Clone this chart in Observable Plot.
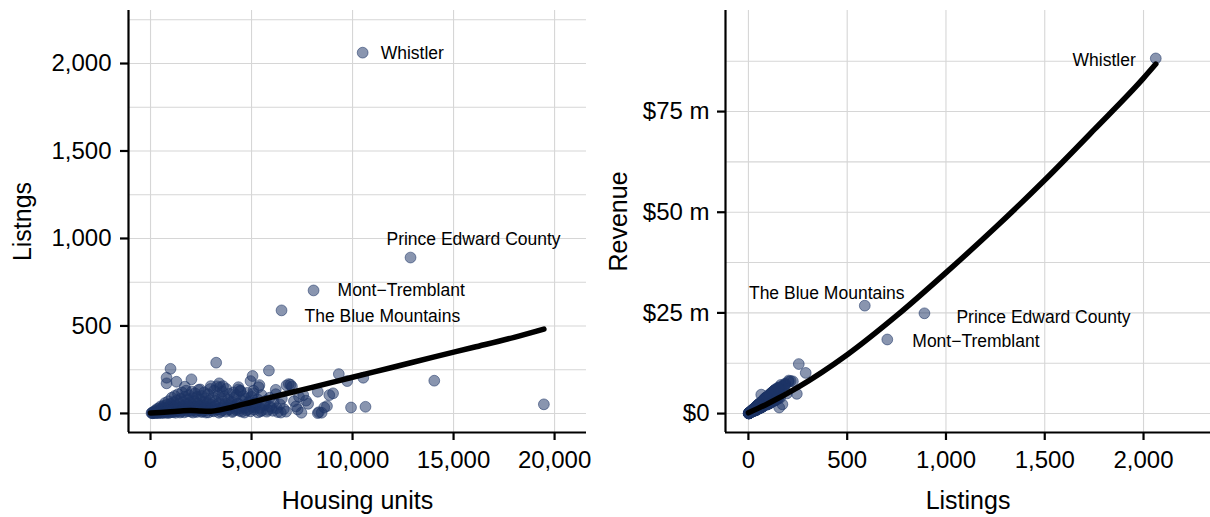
<!DOCTYPE html>
<html>
<head>
<meta charset="utf-8">
<script src="https://cdn.jsdelivr.net/npm/d3@7"></script>
<script src="https://cdn.jsdelivr.net/npm/@observablehq/plot@0.6"></script>
<style>
  body { margin: 0; background: #fff; }
  #wrap { display: flex; width: 1210px; height: 517px; }
  #wrap svg { display: block; overflow: visible; }
</style>
</head>
<body>
<div id="wrap"></div>
<script>
// ---------- tick values and labels ----------
const housingTicks = [0, 5000, 10000, 15000, 20000];
const listingTicks = [0, 500, 1000, 1500, 2000];
const listingMinorTicks = [250, 750, 1250, 1750, 2250];
const revenueTicks = [0, 25, 50, 75];
const revenueTickLabels = ["$0", "$25 m", "$50 m", "$75 m"];
const revenueMinorTicks = [12.5, 37.5, 62.5, 87.5];

// ---------- labelled places ----------
const placeNames = ["Whistler", "Prince Edward County", "Mont\u2212Tremblant", "The Blue Mountains"];
const placeHousing = [10500, 12870, 8070, 6485];
const placeListings = [2062, 891, 703, 589];
const placeRevenue = [88.2, 24.9, 18.4, 26.8]; // $ millions

// ---------- all other places (housing units, listings, revenue in $ m) ----------
const housing = [
  50,80,120,150,200,230,260,300,320,350,
  380,400,420,450,480,500,520,550,580,600,
  620,650,680,700,720,750,780,800,820,850,
  880,900,930,960,1000,1020,1050,1080,1100,1130,
  1150,1180,1200,1230,1260,1300,1330,1360,1400,1430,
  1460,1500,1530,1560,1600,1630,1660,1700,1730,1760,
  1800,1830,1860,1900,1930,1960,2000,2050,2080,2100,
  2150,2180,2200,2250,2280,2300,2350,2380,2420,2450,
  2500,2530,2560,2600,2650,2680,2720,2750,2800,2850,
  2880,2920,2960,3000,3050,3100,3150,3200,3230,3280,
  3320,3360,3400,3450,3480,3520,3560,3600,3650,3700,
  3750,3800,3850,3900,3950,4000,4050,4100,4150,4200,
  4250,4300,4350,4400,4450,4500,4550,4600,4650,4700,
  4750,4800,4850,4900,4950,5000,5050,5100,5150,5200,
  5300,5390,5450,5500,5600,5700,5800,5860,5900,6000,
  6100,6200,6300,6400,6500,6600,6710,6733,6845,6931,
  7000,7100,7200,7280,7350,7470,7560,7695,7800,8280,
  8280,8333,8470,8600,8735,8850,9035,9320,9735,9925,
  10530,10640,14045,19470,990,3250,795,795,1285,2025,
  1700,2460,2985,3400,3590,4350,4440,5100,6200,5350,
  100,180,270,340,430,510,590,660,740,830,
  910,990,1070,1150,1240,1320,1410,1490,1580,1670,
  1750,1840,1920,2010,2100,2190,2270,2360,2440,2530,
  2610,2700,2780,2870,2950,3040,3130,3210,3300,3390,
  3470,3560,3640,3730,3810,3900,3980,4070,4160,4240,
  4330,4420,4510,4590,4680,4770,4860,4950,5040,5130,
  5220,5320,5420,5520,5650,5750,5900,6050,6250,6450
];
const listings = [
  2,5,3,8,12,4,18,6,25,10,
  15,2,30,7,20,40,11,28,5,35,
  16,45,9,22,60,13,33,3,50,24,
  70,14,38,6,55,28,90,18,42,8,
  65,32,100,12,48,75,22,110,36,58,
  5,85,26,120,44,68,15,95,38,130,
  55,20,80,105,30,62,10,125,47,88,
  25,70,115,40,8,95,57,135,18,78,
  35,100,12,66,120,45,85,5,60,110,
  30,75,140,50,15,92,130,40,70,155,
  22,105,60,150,10,85,125,35,98,55,
  140,20,78,112,45,65,8,120,90,30,
  105,58,137,15,130,75,40,100,5,85,
  50,118,25,70,185,95,214,115,35,60,
  80,162,12,105,45,72,20,245,90,30,
  65,110,8,52,85,25,10,160,168,164,
  153,70,40,23,95,4,105,73,55,124,
  2,7,4,34,42,105,115,225,185,34,
  204,38,187,52,255,290,204,172,181,195,
  153,137,156,172,156,150,128,130,135,150,
  1,3,2,6,4,9,2,12,6,15,
  3,20,8,25,4,14,30,10,22,6,
  28,12,40,18,5,33,14,24,42,8,
  28,16,38,6,22,34,12,45,25,4,
  30,18,48,10,35,24,52,14,40,20,
  55,28,10,46,32,18,60,12,38,22,
  48,6,32,18,55,10,40,15,30,5
];
const revenue = [
  0.05,0.12,0.08,0.25,0.4,0.1,0.6,0.2,0.9,0.3,
  0.5,0.05,1.1,0.2,0.7,1.6,0.35,1.0,0.15,1.3,
  0.55,1.8,0.3,0.8,2.2,0.4,1.2,0.1,1.9,0.9,
  2.6,0.45,1.4,0.2,2.1,1.0,3.4,0.6,1.5,0.25,
  2.9,0.8,3.0,0.5,2.2,1.9,0.9,4.6,0.9,2.6,
  0.15,3.9,0.6,3.0,2.0,1.6,0.6,4.2,0.9,5.6,
  1.3,0.9,3.6,2.5,1.3,1.5,0.4,5.4,1.1,3.9,
  1.1,1.7,5.0,0.9,0.3,2.3,2.5,3.3,0.8,3.4,
  0.8,4.4,0.5,1.6,5.3,1.0,3.7,0.2,1.4,4.9,
  1.3,1.8,6.1,2.2,0.4,2.2,5.7,0.9,3.1,6.5,
  1.0,2.5,2.6,3.8,0.3,3.7,3.1,1.5,2.4,2.4,
  3.4,0.9,3.4,2.7,2.0,1.6,0.3,5.2,2.2,1.3,
  4.6,1.4,6.0,0.6,3.2,3.3,1.0,2.4,0.2,3.7,
  2.2,2.9,1.1,1.7,7.4,4.1,8.1,2.8,1.5,1.5,
  3.5,6.3,0.5,2.5,1.9,1.8,0.9,4.9,3.9,0.7,
  4.7,4.8,0.3,1.3,3.7,0.6,0.4,3.9,6.6,7.1,
  6.4,1.7,1.7,0.6,4.1,0.15,2.6,3.1,1.3,5.3,
  0.05,0.25,0.15,0.8,1.8,4.5,2.8,8.0,7.0,1.5,
  8.2,1.6,7.3,1.3,12.3,10.1,7.9,2.3,7.0,5.0,
  5.9,3.3,1.5,6.8,6.2,3.7,5.6,3.2,5.8,6.4,
  0.03,0.1,0.06,0.2,0.12,0.3,0.05,0.4,0.2,0.5,
  0.1,0.7,0.25,0.9,0.12,0.5,1.1,0.3,0.8,0.2,
  1.0,0.4,1.5,0.6,0.15,1.2,0.5,0.9,1.6,0.3,
  1.0,0.55,1.4,0.2,0.8,1.2,0.4,1.7,0.9,0.15,
  1.1,0.6,1.8,0.35,1.3,0.85,2.0,0.5,1.5,0.7,
  2.1,1.0,0.35,1.7,1.2,0.6,2.3,0.4,1.4,0.8,
  1.8,0.2,1.2,0.6,2.1,0.35,1.5,0.5,1.1,0.2
];

// ---------- smoothed trend lines ----------
const smoothHousing  = [0, 500, 1000, 1500, 2000, 2500, 3000, 3500, 4000, 5000, 6000, 7000, 8000, 10000, 12000, 14000, 16000, 18000, 19470];
const smoothListings = [3, 6, 10, 14, 17, 14, 13, 22, 35, 64, 93, 121, 149, 207, 264, 322, 378, 435, 482];
const smoothListingsR = [0, 100, 250, 500, 750, 1000, 1250, 1500, 1750, 2000, 2062];
const smoothRevenue   = [0.2, 2.5, 6.5, 14.6, 24.3, 35, 46.2, 58, 70.5, 83.3, 86.8];

// ---------- build tables ----------
const places = placeNames.map((n, i) => ({name: n, housing: placeHousing[i], listings: placeListings[i], revenue: placeRevenue[i]}));
const rows = housing.map((h, i) => ({housing: h, listings: listings[i], revenue: revenue[i]})).concat(places);
const smoothLeft = smoothHousing.map((h, i) => ({x: h, y: smoothListings[i]}));
const smoothRight = smoothListingsR.map((l, i) => ({x: l, y: smoothRevenue[i]}));

// ---------- styling ----------
const FONT = "'Liberation Sans', Arial, Helvetica, sans-serif";
const NAVY = "#1d3466";
const GRID = "#d6d6d6";
const dotStyle = {r: 5.4, fill: NAVY, fillOpacity: 0.52, stroke: NAVY, strokeOpacity: 0.55, strokeWidth: 1};
const gridStyle = {stroke: GRID, strokeOpacity: 1, strokeWidth: 1.1};
const axisStyle = {tickSize: 8, fontSize: 24, strokeWidth: 2.2, stroke: "black", fill: "black", label: null};
const labelFont = 17.5;
const titleFont = 25;

const leftLabelOffsets = [
  {textAnchor: "start", dx: 18, dy: 1},
  {textAnchor: "middle", dx: 63, dy: -18},
  {textAnchor: "start", dx: 24, dy: 0},
  {textAnchor: "start", dx: 23, dy: 6}
];
const rightLabelOffsets = [
  {textAnchor: "end", dx: -20, dy: 2},
  {textAnchor: "start", dx: 32, dy: 4},
  {textAnchor: "start", dx: 25, dy: 2},
  {textAnchor: "middle", dx: -38, dy: -12}
];

const xDomL = [-1090, 21580], yDomL = [-109, 2303];
const xDomR = [-116, 2339], yDomR = [-4.7, 100.1];

function titleX(t) {
  return Plot.text([t], {frameAnchor: "bottom", lineAnchor: "middle", textAnchor: "middle", dy: 68, text: d => d, fontSize: titleFont, fill: "black"});
}
function titleY(t, dx) {
  return Plot.text([t], {frameAnchor: "left", lineAnchor: "middle", textAnchor: "middle", dx, rotate: -90, text: d => d, fontSize: titleFont, fill: "black"});
}

const left = Plot.plot({
  width: 605, height: 517,
  marginLeft: 128, marginRight: 19, marginTop: 10, marginBottom: 85,
  style: {fontFamily: FONT, background: "white", color: "black"},
  x: {domain: xDomL},
  y: {domain: yDomL},
  marks: [
    Plot.gridY(listingMinorTicks.concat(listingTicks), gridStyle),
    Plot.gridX(housingTicks, gridStyle),
    Plot.dot(rows, {x: "housing", y: "listings", ...dotStyle}),
    Plot.line(smoothLeft, {x: "x", y: "y", stroke: "black", strokeWidth: 5.5, curve: "monotone-x"}),
    ...places.map((p, i) => Plot.text([p], {x: "housing", y: "listings", text: "name", fontSize: labelFont, fill: "black", ...leftLabelOffsets[i]})),
    Plot.ruleX([xDomL[0]], {stroke: "black", strokeWidth: 2.2}),
    Plot.ruleY([yDomL[0]], {stroke: "black", strokeWidth: 2.2}),
    Plot.axisX(housingTicks, {...axisStyle, tickPadding: 10, tickFormat: d3.format(",")}),
    Plot.axisY(listingTicks, {...axisStyle, tickPadding: 9, tickFormat: d3.format(",")}),
    titleX("Housing units"),
    titleY("Listngs", -106)
  ]
});

const right = Plot.plot({
  width: 605, height: 517,
  marginLeft: 120, marginRight: 0, marginTop: 10, marginBottom: 85,
  style: {fontFamily: FONT, background: "white", color: "black"},
  x: {domain: xDomR},
  y: {domain: yDomR},
  marks: [
    Plot.gridY(revenueMinorTicks.concat(revenueTicks), gridStyle),
    Plot.gridX(listingTicks, gridStyle),
    Plot.dot(rows, {x: "listings", y: "revenue", ...dotStyle}),
    Plot.line(smoothRight, {x: "x", y: "y", stroke: "black", strokeWidth: 5.5, curve: "monotone-x"}),
    ...places.map((p, i) => Plot.text([p], {x: "listings", y: "revenue", text: "name", fontSize: labelFont, fill: "black", ...rightLabelOffsets[i]})),
    Plot.ruleX([xDomR[0]], {stroke: "black", strokeWidth: 2.2}),
    Plot.ruleY([yDomR[0]], {stroke: "black", strokeWidth: 2.2}),
    Plot.axisX(listingTicks, {...axisStyle, tickPadding: 10, tickFormat: d3.format(",")}),
    Plot.axisY(revenueTicks, {...axisStyle, tickPadding: 8, tickFormat: d => revenueTickLabels[revenueTicks.indexOf(d)]}),
    titleX("Listings"),
    titleY("Revenue", -107)
  ]
});

document.getElementById("wrap").append(left, right);
</script>
</body>
</html>
